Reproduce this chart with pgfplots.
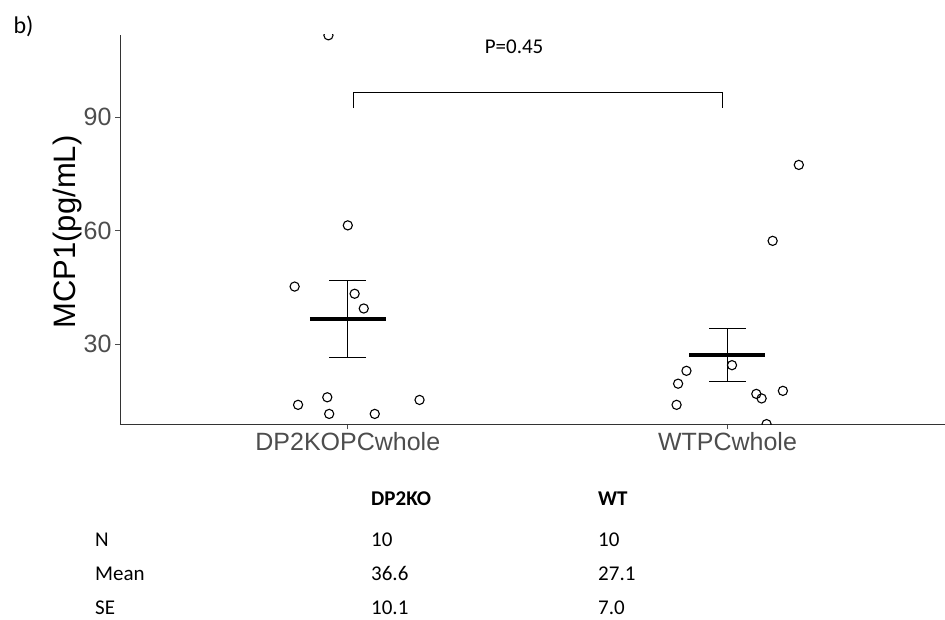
\documentclass[border=0pt]{standalone}
\usepackage{fontspec}
\setmainfont{Carlito}
\newfontfamily\arial{Liberation Sans}
\usepackage{pgfplots}
\pgfplotsset{compat=1.18}
\definecolor{axgray}{HTML}{4D4D4D}
\definecolor{linegray}{HTML}{333333}
\begin{document}
\begin{tikzpicture}[x=1pt,y=1pt]
\useasboundingbox (-120,-194.7) rectangle (825,424.3);
\begin{axis}[
  at={(0,0)}, anchor=south west,
  scale only axis, width=825pt, height=389.3pt,
  xmin=0.4, xmax=2.573, ymin=8.75, ymax=111.78,
  axis x line=bottom, axis y line=left,
  axis line style={-, linegray, line width=0.9pt},
  xtick={1,2}, xticklabels={DP2KOPCwhole,WTPCwhole},
  ytick={30,60,90},
  tick align=outside, major tick length=5pt,
  tick style={axgray, line width=0.9pt},
  /pgf/number format/assume math mode=true,
  ticklabel style={font=\arial\fontsize{25}{25}\selectfont, text=axgray},
  ylabel={MCP1(pg/mL)},
  ylabel style={font=\arial\fontsize{31}{31}\selectfont, at={(axis description cs:-0.064,0.494)}, anchor=center},
  clip marker paths=true,
]
% DP2KO points
\addplot[only marks, mark=o, mark size=4.6pt, black, line width=1.1pt] coordinates {
  (0.949,111.7) (1.000,61.4) (0.860,45.2) (1.018,43.3) (1.042,39.4)
  (0.869,13.9) (0.946,15.9) (0.951,11.5) (1.071,11.5) (1.189,15.2)
};
% WT points
\addplot[only marks, mark=o, mark size=4.6pt, black, line width=1.1pt] coordinates {
  (2.188,77.4) (2.119,57.3) (2.012,24.4) (1.892,22.9) (1.870,19.5)
  (1.866,13.9) (2.076,16.8) (2.090,15.6) (2.146,17.6) (2.103,8.8)
};
% error bars
\addplot[black, line width=1.1pt, mark=none,
  error bars/.cd, y dir=both, y explicit,
  error bar style={line width=1.1pt},
  error mark options={rotate=90, mark size=18.3pt, line width=1.1pt}]
  coordinates {(1,36.6) +- (0,10.1)};
\addplot[black, line width=1.1pt, mark=none,
  error bars/.cd, y dir=both, y explicit,
  error bar style={line width=1.1pt},
  error mark options={rotate=90, mark size=18.3pt, line width=1.1pt}]
  coordinates {(2,27.1) +- (0,7.0)};
% means
\addplot[black, line width=3.5pt] coordinates {(0.9,36.6) (1.1,36.6)};
\addplot[black, line width=3.5pt] coordinates {(1.9,27.1) (2.1,27.1)};
% bracket
\addplot[black, line width=0.9pt] coordinates {(1.015,92.4) (1.015,96.5) (1.986,96.5) (1.986,92.4)};
\node[font=\fontsize{21}{21}\selectfont] at (axis cs:1.438,108.7) {P=0.45};
\end{axis}
\node[anchor=base west, font=\fontsize{24}{24}\selectfont] at (-110,391) {b)};
\begin{scope}[every node/.style={anchor=base west, font=\fontsize{21}{21}\selectfont, inner sep=0}]
\node at (251,-80.7) {\textbf{DP2KO}};
\node at (478,-80.7) {\textbf{WT}};
\node at (-25,-121.7) {N};
\node at (251,-121.7) {10};
\node at (478,-121.7) {10};
\node at (-25,-155.7) {Mean};
\node at (251,-155.7) {36.6};
\node at (478,-155.7) {27.1};
\node at (-25,-189.7) {SE};
\node at (251,-189.7) {10.1};
\node at (478,-189.7) {7.0};
\end{scope}
\end{tikzpicture}
\end{document}
